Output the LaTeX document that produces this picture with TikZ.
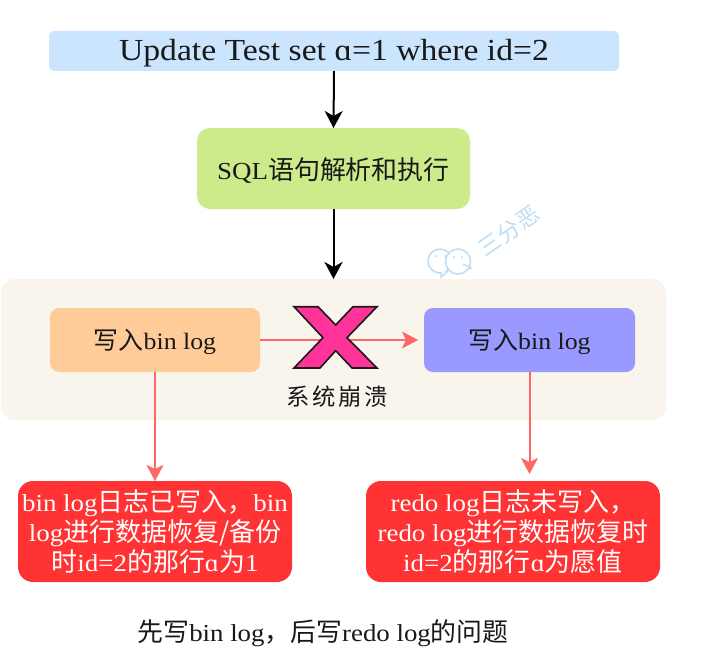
\documentclass[tikz,border=0pt]{standalone}
\usepackage{fontspec}
\setmainfont[FakeStretch=1.1]{Liberation Serif}
\newfontfamily\cjk[Scale=1.06]{Noto Sans CJK SC}
\newcommand{\zh}[1]{{\cjk #1}}
\newcommand{\dn}[1]{\raisebox{-2pt}[\height][\depth]{#1}}
\usetikzlibrary{arrows.meta}
\definecolor{topblue}{HTML}{CCE5FF}
\definecolor{sqlgreen}{HTML}{CDEB8B}
\definecolor{panelbg}{HTML}{F9F5EC}
\definecolor{orangebox}{HTML}{FFCC99}
\definecolor{purplebox}{HTML}{9999FF}
\definecolor{redbox}{HTML}{FF3333}
\definecolor{pinkline}{HTML}{FF6666}
\definecolor{crossfill}{HTML}{FF3399}
\definecolor{wmblue}{HTML}{BBDDF5}
\tikzset{
  x=1pt,y=-1pt,
  box/.style={rounded corners=#1,inner sep=0pt,outer sep=0pt,align=center,text=black!90},
  box/.default=8pt,
  blackarrow/.style={draw=black,line width=2pt,-{Stealth[length=17pt,width=18pt,inset=5pt]}},
  pinkarrow/.style={draw=pinkline,line width=2pt,-{Stealth[length=16pt,width=17pt,inset=4pt]}},
  redtext/.style={text=white,font=\fontsize{24.5}{30}\selectfont}
}
\begin{document}
\begin{tikzpicture}
\useasboundingbox (0,0) rectangle (710,661);
\fill[white] (0,0) rectangle (710,661);
\node[box=14pt,fill=panelbg,minimum width=665pt,minimum height=141pt] (panel) at (333.5,349.5) {};
\node[box=5pt,fill=topblue,minimum width=570pt,minimum height=40pt,font=\fontsize{30.6}{34}\selectfont] (stmt) at (334,51) {\dn{Update Test set ɑ=1 where id=2}};
\node[box=13pt,fill=sqlgreen,minimum width=273pt,minimum height=81pt,font=\fontsize{24.5}{30}\selectfont] (parse) at (333.5,168.5) {\dn{SQL\zh{语句解析和执行}}};
\node[box=9pt,fill=orangebox,minimum width=210pt,minimum height=64pt,font=\fontsize{23.5}{28}\selectfont] (binlog) at (155,340) {\dn{\zh{写入}bin log}};
\node[box=9pt,fill=purplebox,minimum width=211pt,minimum height=64pt,font=\fontsize{23.5}{28}\selectfont] (redolog) at (529.5,340) {\dn{\zh{写入}bin log}};
\node[box=15pt,fill=redbox,redtext,minimum width=274pt,minimum height=101pt] (binresult) at (155,531.5) {bin log\zh{日志已写入，}bin\\log\zh{进行数据恢复/备份}\\\zh{时}id=2\zh{的那行}ɑ\zh{为}1};
\node[box=15pt,fill=redbox,redtext,minimum width=294pt,minimum height=101pt] (redoresult) at (513,531.5) {redo log\zh{日志未写入，}\\redo log\zh{进行数据恢复时}\\id=2\zh{的那行}ɑ\zh{为愿值}};
\draw[blackarrow] (stmt.south) -- (parse.north);
\draw[blackarrow] (parse.south) -- (parse.south |- panel.north);
\draw[pinkarrow,shorten >=6pt] (binlog.east) -- (redolog.west);
\draw[pinkarrow] (binlog.south) -- (binlog.south |- binresult.north);
\draw[pinkarrow,shorten >=7pt] (redolog.south) -- (redolog.south |- redoresult.north);
\draw[fill=crossfill,draw=black!90,line width=1.6pt,line join=miter]
  (294,306.7) -- (318,306.7) -- (335.7,325) -- (353,306.7) -- (377,306.7) -- (347,337.7) -- (377,368) -- (352,368) -- (335.7,350.7) -- (320,368) -- (294,368) -- (323,337.7) -- cycle;
\node[inner sep=0pt,font=\cjk\fontsize{22}{26}\selectfont,text=black!90] (crash) at (337,397) {系\hspace{2.5pt}统\hspace{2.5pt}崩\hspace{2.5pt}溃};
\node[inner sep=0pt,font=\fontsize{24.4}{28}\selectfont,text=black!90] (caption) at (323,633) {\zh{先写}bin log\zh{，后写}redo log\zh{的问题}};
% watermark
\begin{scope}[draw=wmblue,line width=1.5pt,fill=white]
  \filldraw (440,261) circle (12);
  \filldraw (441,272) -- (441,277) -- (448,271);
  \filldraw (458,261.5) circle (12.5);
  \filldraw (466,270) -- (471,268) -- (463,264);
  \fill[wmblue] (436,256) circle (1.2) (445,256) circle (1.2) (454,257) circle (1.2) (462,257) circle (1.2);
\end{scope}
\node[inner sep=0pt,rotate=35,text=wmblue,font=\cjk\fontsize{21}{24}\selectfont] (wm) at (509,231) {三\hspace{1pt}分\hspace{1pt}恶};
\end{tikzpicture}
\end{document}
